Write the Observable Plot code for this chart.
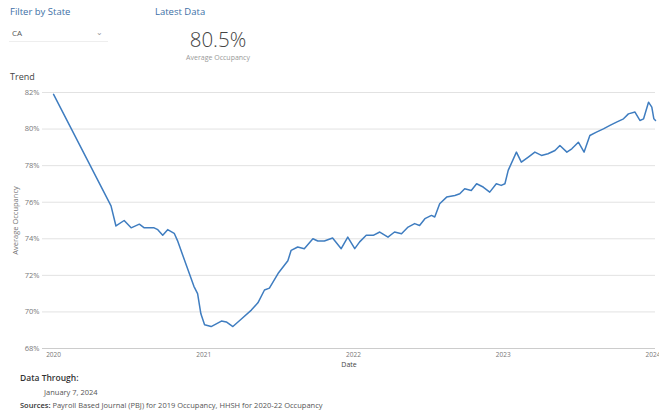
<!DOCTYPE html>
<html><head><meta charset="utf-8">
<script src="https://cdn.jsdelivr.net/npm/d3@7"></script>
<script src="https://cdn.jsdelivr.net/npm/@observablehq/plot@0.6"></script>
<style>
body{margin:0;width:659px;height:414px;position:relative;font-family:"Open Sans",Roboto,sans-serif;background:#fff;overflow:hidden;color:#444}
.abs{position:absolute;white-space:nowrap}
#chart{position:absolute;left:0;top:84px}
</style></head><body>
<script>
// Weekly average occupancy (%)
const dates = ["2020-01-01","2020-05-20","2020-06-01","2020-06-21","2020-07-08","2020-07-28","2020-08-09","2020-09-02","2020-09-11","2020-09-23","2020-10-05","2020-10-21","2020-10-29","2020-11-22","2020-12-08","2020-12-17","2020-12-25","2021-01-03","2021-01-19","2021-02-13","2021-02-25","2021-03-13","2021-04-02","2021-04-27","2021-05-13","2021-05-29","2021-06-10","2021-07-01","2021-07-25",
"2021-08-02","2021-08-18","2021-09-03","2021-09-24","2021-10-06","2021-10-22","2021-11-11","2021-12-02","2021-12-18","2022-01-04","2022-01-16","2022-02-01","2022-02-18","2022-03-06","2022-03-26","2022-04-11","2022-04-28","2022-05-14","2022-05-30","2022-06-11","2022-06-24","2022-07-10","2022-07-18","2022-07-30","2022-08-16","2022-09-05","2022-09-17","2022-09-29","2022-10-15","2022-10-28","2022-11-13","2022-11-29","2022-12-15","2022-12-27","2023-01-05","2023-01-13","2023-02-02","2023-02-14","2023-03-03","2023-03-19","2023-04-04","2023-04-20","2023-05-07","2023-05-19","2023-06-05","2023-06-17","2023-07-03","2023-07-17","2023-07-31","2023-08-16","2023-09-02","2023-09-18","2023-10-04","2023-10-21","2023-11-02","2023-11-18","2023-11-30","2023-12-09","2023-12-21","2023-12-29","2024-01-03","2024-01-07"];
const occupancy = [81.9,75.8,74.7,75.0,74.6,74.8,74.6,74.6,74.5,74.2,74.5,74.3,73.9,72.4,71.4,71.0,69.9,69.3,69.2,69.5,69.45,69.2,69.6,70.1,70.5,71.2,71.3,72.1,72.8,
73.37,73.55,73.46,74.0,73.88,73.88,74.04,73.46,74.09,73.46,73.83,74.19,74.19,74.37,74.09,74.37,74.28,74.64,74.83,74.73,75.1,75.28,75.19,75.92,76.28,76.37,76.46,76.74,76.64,77.01,76.83,76.55,77.01,76.92,77.01,77.74,78.74,78.19,78.47,78.74,78.56,78.65,78.83,79.1,78.74,78.92,79.28,78.74,79.65,79.83,80.01,80.2,80.38,80.56,80.83,80.93,80.47,80.56,81.47,81.2,80.56,80.47];
const yTicks = [68,70,72,74,76,78,80,82];
const xTicks = ["2020-01-01","2021-01-01","2022-01-01","2023-01-01","2024-01-01"];
const xDomain = ["2019-12-05","2024-01-07"];
const latestValue = "80.5%";
</script>
<div class="abs" style="left:10px;top:5px;font-size:9.5px;color:#3d6fa6">Filter by State</div>
<div class="abs" style="left:9px;top:25px;width:96px;height:16px;border-bottom:1px solid #eee;font-size:8px;color:#555;line-height:16px;padding-left:3px">CA<span style="position:absolute;left:87px;top:-1px;color:#999;font-size:8px">&#8964;</span></div>
<div class="abs" style="left:155px;top:5px;font-size:9.5px;color:#3d6fa6">Latest Data</div>
<div class="abs" id="latest" style="left:158px;width:120px;text-align:center;top:25px;font-size:20.5px;font-weight:300;color:#444"></div>
<div class="abs" style="left:158px;width:120px;text-align:center;top:53px;font-size:7px;color:#999">Average Occupancy</div>
<div class="abs" style="left:10px;top:70px;font-size:9px;color:#444">Trend</div>
<div id="chart"></div>
<div class="abs" style="left:20px;top:372px;font-size:8.5px;font-weight:600;color:#333">Data Through:</div>
<div class="abs" style="left:44px;top:387px;font-size:7.5px;color:#555">January 7, 2024</div>
<div class="abs" style="left:20px;top:400px;font-size:7.5px;color:#555"><b style="font-weight:600;color:#333">Sources:</b> Payroll Based Journal (PBJ) for 2019 Occupancy, HHSH for 2020-22 Occupancy</div>
<script>
document.getElementById("latest").textContent = latestValue;
const data = dates.map((d, i) => ({date: new Date(d), value: occupancy[i]}));
const chart = Plot.plot({
  width: 659,
  height: 286,
  marginTop: 8,
  marginBottom: 22,
  marginLeft: 42,
  marginRight: 4,
  style: {fontFamily: "'Open Sans', Roboto, sans-serif", fontSize: "7.5px", color: "#777", background: "#fff"},
  x: {type: "utc", domain: xDomain.map(d => new Date(d)), ticks: xTicks.map(d => new Date(d)), tickFormat: d3.utcFormat("%Y"), tickSize: 0, tickPadding: 4, label: "Date", labelAnchor: "center", labelArrow: "none", labelOffset: 18},
  y: {domain: [68, 82], ticks: yTicks, tickFormat: d => d + "%", tickSize: 0, tickPadding: 3, label: "Average Occupancy", labelAnchor: "center", labelArrow: "none", labelOffset: 30},
  marks: [
    Plot.gridY(yTicks, {stroke: "#e2e2e2", strokeOpacity: 1}),
    Plot.ruleY([68], {stroke: "#ccc"}),
    Plot.axisX({ticks: xTicks.map(d => new Date(d)), tickFormat: d3.utcFormat("%Y"), tickSize: 0, tickPadding: 4, fontSize: 6.5, label: null}),
    Plot.axisX({ticks: [], label: "Date", labelAnchor: "center", labelArrow: "none", labelOffset: 18, fill: "#444", fontSize: 7}),
    Plot.lineY(data, {x: "date", y: "value", stroke: "#3f7dc0", strokeWidth: 1.5, curve: "linear"})
  ]
});
document.getElementById("chart").appendChild(chart);
</script>
</body></html>
